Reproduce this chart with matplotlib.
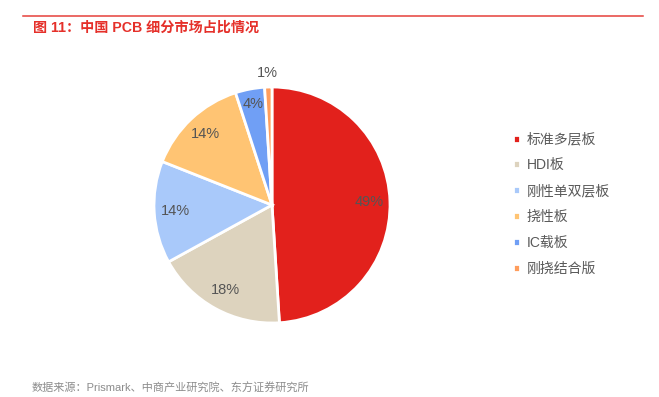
import matplotlib.pyplot as plt
from matplotlib.lines import Line2D

plt.rcParams['font.family'] = ['Liberation Sans', 'Noto Sans CJK SC', 'DejaVu Sans']

segments = ['标准多层板', 'HDI板', '刚性单双层板', '挠性板', 'IC载板', '刚挠结合版']
shares = [49, 18, 14, 14, 4, 1]
colors = ['#E2211C', '#DDD3BE', '#A9C9FA', '#FFC473', '#709FF5', '#FF9D5C']

fig = plt.figure(figsize=(6.59, 3.97), dpi=100)

# header line + title
fig.add_artist(Line2D([23 / 659, 643 / 659], [381 / 397, 381 / 397], color='#E5403A', lw=1.1))
fig.text(33 / 659, 369 / 397, '图 11：中国 PCB 细分市场占比情况', color='#E5302A',
         fontsize=10.2, fontweight='bold', va='center', ha='left')

# pie
ax = fig.add_axes([(272 - 118) / 659, (397 - 205 - 118) / 397, 236 / 659, 236 / 397])
wedges, texts, autotexts = ax.pie(
    shares, colors=colors, startangle=90, counterclock=False,
    autopct='%1.0f%%', pctdistance=0.82,
    wedgeprops=dict(edgecolor='white', linewidth=2),
    textprops=dict(color='#555555', fontsize=10.5))
ax.set_xlim(-1, 1)
ax.set_ylim(-1, 1)
ax.set_aspect('equal')
ax.axis('off')

# small slices: move labels outward
for t, d in zip(autotexts[-2:], [0.87, 1.12]):
    x, y = t.get_position()
    r = (x ** 2 + y ** 2) ** 0.5
    t.set_position((x / r * d, y / r * d))
for t in autotexts:
    t.set_clip_on(False)

leg = fig.legend(wedges, segments, loc='center left', bbox_to_anchor=(0.768, 0.486),
                 frameon=False, fontsize=10, handlelength=0.5, handleheight=0.5,
                 handletextpad=0.5, labelspacing=0.85, borderpad=0)
for txt in leg.get_texts():
    txt.set_color('#595959')

fig.text(32 / 659, 9 / 397, '数据来源：Prismark、中商产业研究院、东方证券研究所', color='#8C8C8C',
         fontsize=8, va='center', ha='left')

fig.savefig('out.png', dpi=100, facecolor='white')
